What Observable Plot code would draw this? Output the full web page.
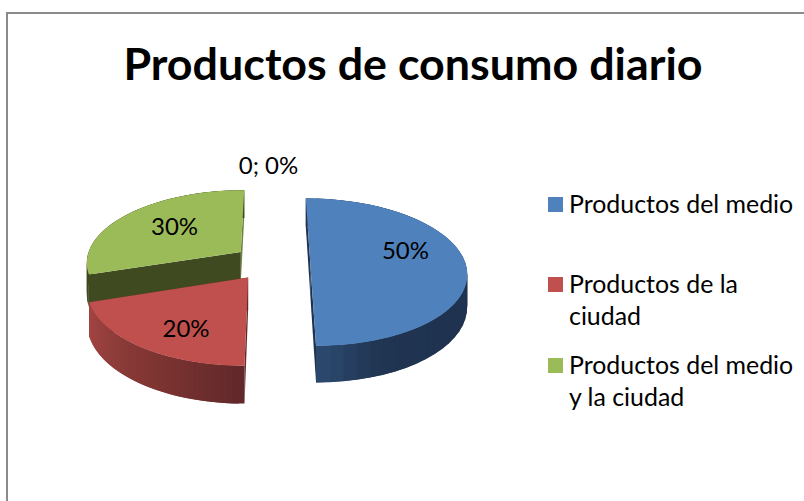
<!DOCTYPE html>
<html>
<head>
<meta charset="utf-8">
<script src="https://cdn.jsdelivr.net/npm/d3@7"></script>
<script src="https://cdn.jsdelivr.net/npm/@observablehq/plot@0.6"></script>
<style>
html,body{margin:0;padding:0;background:#fff;overflow:hidden}
#page{position:relative;width:804px;height:501px;font-family:Lato,sans-serif;color:#000}
#frame{position:absolute;left:6px;top:12px;width:800px;height:492px;border-left:2px solid #8a8a8a;border-top:2px solid #8a8a8a}
#title{position:absolute;left:0;width:826px;top:35px;text-align:center;font-weight:700;font-size:44.8px;line-height:56px;white-space:nowrap}
#chart{position:absolute;left:0;top:0}
.lg{position:absolute;left:569px;font-size:24.9px;line-height:32px;white-space:pre}
.sw{position:absolute;left:548px;width:15px;height:15px}
</style>
</head>
<body>
<div id="page">
  <div id="frame"></div>
  <div id="chart"></div>
  <div id="title"></div>
</div>
<script>
const title = "Productos de consumo diario";
const categories = ["Productos del medio", "Productos de la ciudad", "Productos del medio y la ciudad", ""];
const values = [50, 20, 30, 0];
const labels = ["50%", "20%", "30%", "0; 0%"];
const legendLines = [["Productos del medio"], ["Productos de la", "ciudad"], ["Productos del medio", "y la ciudad"]];
const topColors = ["#4F81BD", "#C0504D", "#9BBB59"];
const rimStops = [
  ["#1F3350", "#1F3350", "#1F3350", "#1F3350", "#1F3350", "#1F3350", "#203552", "#2F4F75"],
  ["#62292A", "#7A3331", "#8F3D3A", "#A64543"],
  ["#404A20", "#404A20"]
];
const cutColors = [["#1F3350", "#1F3350"], ["#62292A", "#62292A"], ["#404A20", "#6E8540"]];

// pie geometry
const explode = 0.25, persp = 0.13, depth = 0.44;
const legendTops = [197, 277, 358];
const legendTextTops = [187, 267, 348];
// label anchors on the pie plane: angle (degrees clockwise from back) and radius, from the slice apex
const labelAngle = [76.3, 209.1, 308.2, 359];
const labelRadius = [0.65, 0.71, 0.592, 1.36];

const arcs = d3.pie().sort(null).startAngle(0).endAngle(2 * Math.PI)(values);
const project = (u, v, drop = 0) => {
  const s = 1 / (1 + persp * v);
  return {x: u * s, y: v * s - drop * s};
};
const apex = a => {
  const m = (a.startAngle + a.endAngle) / 2;
  return [explode * Math.sin(m), explode * Math.cos(m)];
};
const rimPoint = (a, t) => {
  const [cu, cv] = apex(a);
  const th = a.startAngle + (a.endAngle - a.startAngle) * t;
  return [cu + Math.sin(th), cv + Math.cos(th)];
};
const rows = [];
const poly = (id, color, pts) => pts.forEach(([u, v, d]) => {
  const p = project(u, v, d);
  rows.push({id, color, x: p.x, y: p.y});
});
const sliceOrder = [2, 1, 0];
for (const i of sliceOrder) {
  const a = arcs[i], c = apex(a), n = 40;
  // cut faces
  const p0 = rimPoint(a, 0), p1 = rimPoint(a, 1);
  poly(`cut1-${i}`, cutColors[i][1], [[c[0], c[1], 0], [p1[0], p1[1], 0], [p1[0], p1[1], depth], [c[0], c[1], depth]]);
  poly(`cut0-${i}`, cutColors[i][0], [[c[0], c[1], 0], [p0[0], p0[1], 0], [p0[0], p0[1], depth], [c[0], c[1], depth]]);
  // outer wall as shaded strips, each overlapping the next so no seam shows
  const shade = d3.piecewise(d3.interpolateRgb, rimStops[i]);
  for (let k = n - 1; k >= 0; k--) {
    const q0 = rimPoint(a, k / n), q1 = rimPoint(a, Math.min(1, (k + 2) / n));
    poly(`rim-${i}-${k}`, d3.rgb(shade((k + 0.5) / n)).formatHex(), [[q0[0], q0[1], 0], [q1[0], q1[1], 0], [q1[0], q1[1], depth], [q0[0], q0[1], depth]]);
  }
  // top face
  const pts = [[c[0], c[1], 0]];
  for (let k = 0; k <= 120; k++) { const q = rimPoint(a, k / 120); pts.push([q[0], q[1], 0]); }
  poly(`top-${i}`, topColors[i], pts);
}
const labelRows = labels.map((text, i) => {
  const c = apex(arcs[i]), th = labelAngle[i] * Math.PI / 180;
  const p = project(c[0] + labelRadius[i] * Math.sin(th), c[1] + labelRadius[i] * Math.cos(th));
  return {text, x: p.x, y: p.y};
});

const chart = Plot.plot({
  width: 804, height: 501, margin: 0,
  style: {background: "transparent", fontFamily: "Lato, sans-serif"},
  x: {axis: null, domain: [-1, 1], range: [116, 426]},
  y: {axis: null, domain: [-1, 1], range: [334.5, 189.5]},
  color: {type: "identity"},
  marks: [
    Plot.line(rows, {x: "x", y: "y", z: "id", fill: "color", strokeWidth: 0, curve: "linear-closed"}),
    Plot.text(labelRows, {x: "x", y: "y", text: "text", fontSize: 24, fill: "#000", textAnchor: "middle"})
  ]
});
document.getElementById("chart").append(chart);
document.getElementById("title").textContent = title;

const page = document.getElementById("page");
legendLines.forEach((lines, i) => {
  const sw = document.createElement("div");
  sw.className = "sw";
  sw.style.top = legendTops[i] + "px";
  sw.style.background = topColors[i];
  page.append(sw);
  const t = document.createElement("div");
  t.className = "lg";
  t.style.top = legendTextTops[i] + "px";
  t.textContent = lines.join("\n");
  page.append(t);
});
</script>
</body>
</html>
